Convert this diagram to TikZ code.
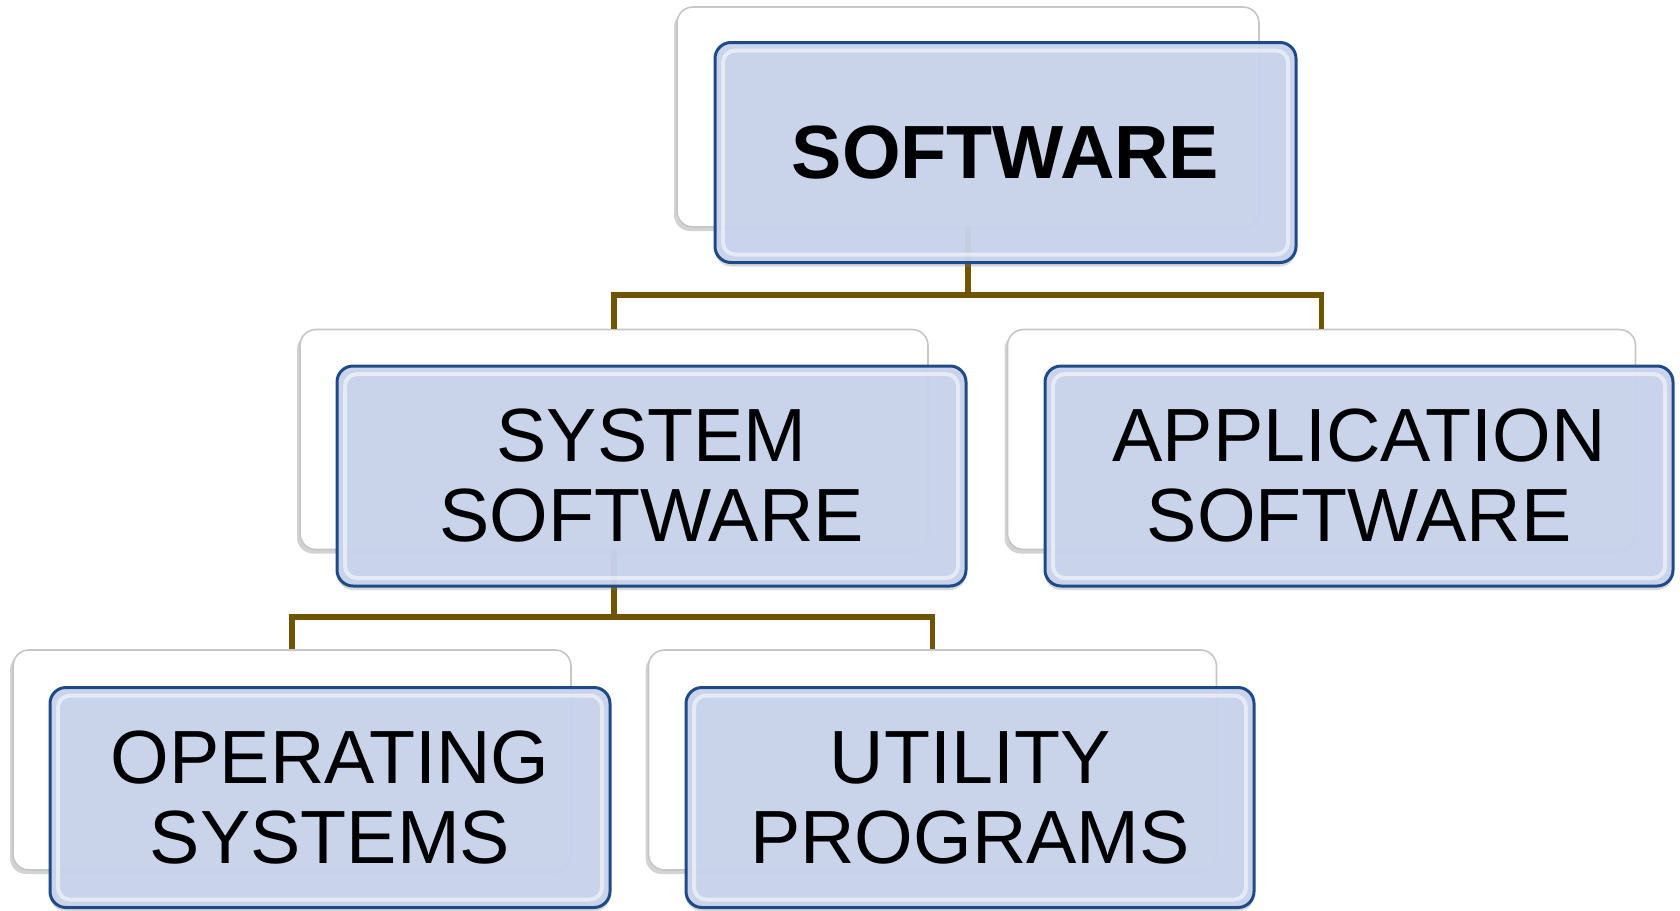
\documentclass[tikz,border=0pt]{standalone}
\usepackage{fontspec}
\setmainfont{Liberation Sans}
\usetikzlibrary{positioning}
\usetikzlibrary{shadows}
\definecolor{boxblue}{RGB}{201,211,236}
\definecolor{edgeblue}{RGB}{30,75,135}
\definecolor{linkbrown}{RGB}{110,84,4}

\begin{document}
\begin{tikzpicture}[x=0.5pt, y=-0.5pt,
    backbox/.style={draw=gray!45, line width=0.8pt, fill=white, rounded corners=8pt,
        inner sep=0pt, minimum width=#1, minimum height=110pt,
        drop shadow={opacity=0.35, shadow xshift=-1.5pt, shadow yshift=-2pt}},
    frontbox/.style={draw=edgeblue, line width=1.5pt, fill=boxblue, fill opacity=0.95,
        text opacity=1, draw opacity=1, rounded corners=8pt, inner sep=0pt,
        minimum width=#1, minimum height=110pt, align=center,
        font=\fontsize{37.7}{40}\selectfont,
        drop shadow={opacity=0.3, shadow xshift=0pt, shadow yshift=-2pt},
        path picture={\draw[white, opacity=0.55, line width=2pt, rounded corners=6pt]
            ([shift={(4pt,-4pt)}]path picture bounding box.north west) rectangle
            ([shift={(-4pt,4pt)}]path picture bounding box.south east);}},
    link/.style={draw=linkbrown, line width=2.75pt}]

    \useasboundingbox (0,0) rectangle (1680,910);

    % Back boxes
    \node at (968,117) (swback) [backbox=291pt] {};
    \node at (614,439.5) (sysback) [backbox=314pt] {};
    \node at (1321.5,439.5) (appback) [backbox=314pt] {};
    \node at (292,760) (osback) [backbox=279pt] {};
    \node at (932.5,760) (utilback) [backbox=284pt] {};

    % Connectors
    \coordinate (j1) at (968,295);
    \coordinate (j2) at (614,617);
    \draw[link] (swback.south) -- (j1) -| (sysback.north);
    \draw[link] (j1) -| (appback.north);
    \draw[link] (sysback.south) -- (j2) -| (osback.north);
    \draw[link] (j2) -| (utilback.north);

    % Front boxes
    \node at (1005.5,152.5) (sw) [frontbox=290.5pt] {\bfseries SOFTWARE};
    \node at (651.5,476) (sys) [frontbox=314.5pt] {SYSTEM\\SOFTWARE};
    \node at (1359,476) (app) [frontbox=314pt] {APPLICATION\\SOFTWARE};
    \node at (330,797.5) (os) [frontbox=280pt] {OPERATING\\SYSTEMS};
    \node at (970,797.5) (util) [frontbox=284pt] {UTILITY\\PROGRAMS};

\end{tikzpicture}
\end{document}
